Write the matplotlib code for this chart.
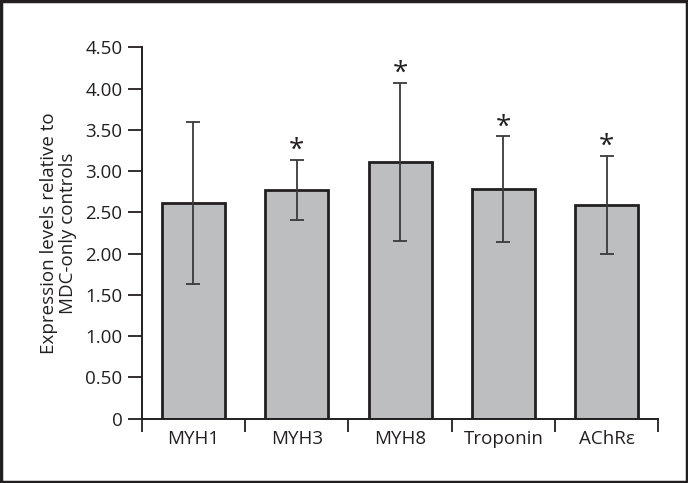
import matplotlib
matplotlib.use("Agg")
import matplotlib.pyplot as plt
from matplotlib.patches import Rectangle

categories = ["MYH1", "MYH3", "MYH8", "Troponin", "AChRε"]
values = [2.61, 2.77, 3.11, 2.78, 2.59]
errors = [0.98, 0.36, 0.96, 0.64, 0.59]
significant = [False, True, True, True, True]
yticks = [0, 0.5, 1.0, 1.5, 2.0, 2.5, 3.0, 3.5, 4.0, 4.5]
ytick_labels = ["0", "0.50", "1.00", "1.50", "2.00", "2.50", "3.00", "3.50", "4.00", "4.50"]

plt.rcParams['font.family'] = ['Open Sans', 'DejaVu Sans']
dark = "#231f20"
fs = 13.5

fig = plt.figure(figsize=(6.88, 4.83), dpi=100)
ax = fig.add_axes([0.206, 0.1331, 0.751, 0.769])

x = list(range(len(categories)))
ax.bar(x, values, width=0.61, color="#bcbec0", edgecolor=dark, linewidth=2.0, zorder=2)
ax.errorbar(x, values, yerr=errors, fmt="none", ecolor="#3a3a3a", elinewidth=1.3,
            capsize=5, capthick=1.3, zorder=3)
for xi, v, e, s in zip(x, values, errors, significant):
    if s:
        ax.annotate("*", xy=(xi, v + e), xytext=(0, -3.5), textcoords="offset points",
                    ha="center", va="bottom", fontsize=20, color=dark)

ax.set_xlim(-0.5, len(categories) - 0.5)
ax.set_ylim(0, 4.5)
ax.set_yticks(yticks)
ax.set_yticklabels(ytick_labels)
ax.set_xticks([i - 0.5 for i in range(len(categories) + 1)], minor=False)
ax.set_xticklabels([])
ax.set_xticks(x, minor=True)
ax.set_xticklabels(categories, minor=True)
ax.tick_params(axis="x", which="minor", length=0, pad=8, labelsize=fs, colors=dark)
ax.tick_params(axis="x", which="major", length=9, width=1.3, direction="out", color=dark)
ax.tick_params(axis="y", length=10, width=1.3, direction="out", labelsize=fs,
               colors=dark, pad=4)

for sp in ["top", "right"]:
    ax.spines[sp].set_visible(False)
for sp in ["left", "bottom"]:
    ax.spines[sp].set_linewidth(1.4)
    ax.spines[sp].set_color(dark)

ax.set_ylabel("Expression levels relative to\nMDC-only controls", fontsize=fs,
              color=dark, labelpad=6, linespacing=1.05)

fig.patches.append(Rectangle((0.0015, 0.002), 0.997, 0.996, transform=fig.transFigure,
                             fill=False, edgecolor=dark, linewidth=2.5))

fig.savefig("out.png", dpi=100)
